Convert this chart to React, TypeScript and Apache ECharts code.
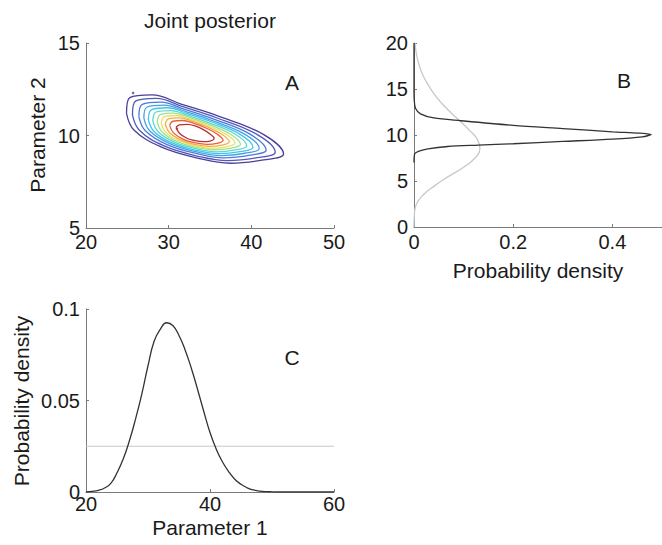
import React, { useEffect, useRef } from "react";
import * as echarts from "echarts";

const FONT = '"Liberation Sans", Arial, Helvetica, sans-serif';
const TEXT = "#1a1a1a";
const AXIS = "#7a7a7a";

// ---- Panel A: joint posterior contours (Parameter 1, Parameter 2), outer -> inner
const contour1 = [[24.9, 11.2], [25.3, 12.05], [28.0, 12.2], [31.5, 11.7], [36.0, 11.05], [41.5, 10.05], [43.9, 9.0], [41.5, 8.68], [37.5, 8.5], [33.5, 8.78], [29.0, 9.4], [25.8, 10.3], [24.9, 11.2]];
const contour2 = [[25.62, 11.11], [26.02, 11.87], [28.5, 12.01], [31.7, 11.56], [35.78, 10.96], [40.72, 10.05], [42.89, 9.1], [40.72, 8.8], [37.1, 8.64], [33.46, 8.89], [29.38, 9.45], [26.46, 10.28], [25.62, 11.11]];
const contour3 = [[26.4, 11.01], [26.8, 11.68], [29.05, 11.8], [31.93, 11.41], [35.55, 10.87], [39.88, 10.06], [41.8, 9.21], [39.88, 8.94], [36.68, 8.79], [33.43, 9.02], [29.8, 9.51], [27.18, 10.26], [26.4, 11.01]];
const contour4 = [[27.0, 10.94], [27.4, 11.54], [29.47, 11.64], [32.1, 11.29], [35.37, 10.79], [39.23, 10.06], [40.96, 9.3], [39.23, 9.04], [36.35, 8.91], [33.4, 9.11], [30.12, 9.56], [27.73, 10.24], [27.0, 10.94]];
const contour5 = [[27.54, 10.87], [27.94, 11.4], [29.85, 11.5], [32.25, 11.18], [35.21, 10.73], [38.64, 10.06], [40.2, 9.37], [38.64, 9.13], [36.05, 9.02], [33.37, 9.19], [30.41, 9.6], [28.22, 10.22], [27.54, 10.87]];
const contour6 = [[28.08, 10.8], [28.48, 11.27], [30.23, 11.35], [32.4, 11.07], [35.05, 10.66], [38.06, 10.07], [39.45, 9.45], [38.06, 9.22], [35.75, 9.12], [33.34, 9.28], [30.7, 9.64], [28.72, 10.2], [28.08, 10.8]];
const contour7 = [[28.62, 10.74], [29.02, 11.14], [30.6, 11.21], [32.55, 10.97], [34.88, 10.6], [37.47, 10.07], [38.69, 9.53], [37.47, 9.31], [35.45, 9.23], [33.31, 9.36], [30.98, 9.68], [29.21, 10.19], [28.62, 10.74]];
const contour8 = [[29.1, 10.68], [29.5, 11.02], [30.94, 11.08], [32.69, 10.87], [34.74, 10.54], [36.95, 10.07], [38.02, 9.6], [36.95, 9.39], [35.19, 9.32], [33.29, 9.44], [31.24, 9.72], [29.65, 10.17], [29.1, 10.68]];
const contour9 = [[29.58, 10.62], [29.98, 10.9], [31.28, 10.95], [32.83, 10.78], [34.6, 10.48], [36.43, 10.07], [37.35, 9.66], [36.43, 9.48], [34.93, 9.41], [33.27, 9.51], [31.5, 9.75], [30.09, 10.16], [29.58, 10.62]];
const contour10 = [[30.12, 10.55], [30.52, 10.77], [31.65, 10.81], [32.98, 10.67], [34.43, 10.42], [35.85, 10.08], [36.59, 9.74], [35.85, 9.57], [34.63, 9.52], [33.24, 9.6], [31.78, 9.79], [30.59, 10.14], [30.12, 10.55]];
const contour11 = [[30.9, 10.45], [31.3, 10.58], [32.2, 10.6], [33.2, 10.52], [34.2, 10.32], [35.0, 10.08], [35.5, 9.85], [35.0, 9.7], [34.2, 9.67], [33.2, 9.72], [32.2, 9.85], [31.3, 10.12], [30.9, 10.45]];
const contours = [contour1, contour2, contour3, contour4, contour5, contour6, contour7, contour8, contour9, contour10, contour11];
const contourColors = ["#4a3f9a", "#5058b8", "#4d78dc", "#46a0e8", "#40c4e8", "#58d8d0", "#a0e090", "#e8e060", "#f4b048", "#e86038", "#b83030"];
const strayPoints = [[25.7, 12.3], [31.0, 10.37]];

// ---- Panel B: marginal of Parameter 2 (posterior dark, prior gray)
const param2Grid = [7.0, 7.7, 8.0, 8.25, 8.5, 8.75, 8.9, 9.05, 9.3, 9.55, 9.8, 10.05, 10.2, 10.35, 10.7, 11.05, 11.55, 11.85, 12.3, 12.9, 13.8, 15.0, 20.0];
const param2Density = [0, 0.0005, 0.002, 0.01, 0.028, 0.068, 0.13, 0.2, 0.3, 0.4, 0.46, 0.478, 0.455, 0.4, 0.3, 0.2, 0.095, 0.04, 0.013, 0.003, 0.0005, 0, 0];
const prior2Grid = [0, 1.5, 2.5, 3.5, 4.5, 5.5, 6.5, 7.5, 8.5, 9.5, 10.5, 11.5, 12.5, 13.5, 14.5, 15.5, 16.5, 17.5, 18.5, 19.5, 20];
const prior2Density = [0, 0.001, 0.005, 0.019, 0.042, 0.07, 0.1, 0.123, 0.133, 0.128, 0.112, 0.093, 0.073, 0.055, 0.04, 0.028, 0.018, 0.011, 0.006, 0.003, 0.002];

// ---- Panel C: marginal of Parameter 1
const param1Grid = [20, 21, 22, 23, 24, 25, 26, 27, 28, 29, 30, 31, 32, 33, 34, 35, 36, 37, 38, 39, 40, 41, 42, 43, 44, 45, 46, 47, 48, 50, 52, 60];
const param1Density = [0, 0.0003, 0.0009, 0.0022, 0.0047, 0.0105, 0.018, 0.028, 0.04, 0.0535, 0.069, 0.0825, 0.089, 0.0925, 0.091, 0.0855, 0.0775, 0.0675, 0.056, 0.044, 0.0325, 0.0235, 0.0165, 0.0112, 0.007, 0.0042, 0.0023, 0.0011, 0.0005, 0.0001, 0, 0];
const prior1Level = 0.025;
const prior1Range = [20, 60];

const TICK_SIZE = 20;
const NAME_SIZE = 21;

const axisCommon = (gridIndex: number, min: number, max: number, interval: number, margin: number, extra: any = {}) => ({
  type: "value" as const,
  gridIndex,
  min,
  max,
  interval,
  axisLine: { show: true, onZero: false, lineStyle: { color: AXIS, width: 1 } },
  axisTick: { show: true, inside: true, length: 3, lineStyle: { color: AXIS } },
  splitLine: { show: false },
  axisLabel: { color: TEXT, fontSize: TICK_SIZE, fontFamily: FONT, margin, ...extra },
});

export default function App() {
  const ref = useRef<HTMLDivElement>(null);
  useEffect(() => {
    const chart = echarts.init(ref.current!, null, { renderer: "svg" });
    const series: any[] = [];
    contours.forEach((c, i) => {
      series.push({
        type: "line",
        xAxisIndex: 0,
        yAxisIndex: 0,
        data: c,
        smooth: 0.4,
        showSymbol: false,
        lineStyle: { color: contourColors[i], width: 1.3 },
        silent: true,
      });
    });
    series.push({
      type: "scatter",
      xAxisIndex: 0,
      yAxisIndex: 0,
      data: strayPoints,
      symbolSize: 2.5,
      itemStyle: { color: (p: any) => (p.dataIndex === 0 ? contourColors[0] : contourColors[10]) },
      silent: true,
    });
    series.push({
      type: "line",
      xAxisIndex: 1,
      yAxisIndex: 1,
      data: prior2Grid.map((y, i) => [prior2Density[i], y]),
      smooth: true,
      showSymbol: false,
      lineStyle: { color: "#c8c8c8", width: 1.3 },
      silent: true,
    });
    series.push({
      type: "line",
      xAxisIndex: 1,
      yAxisIndex: 1,
      data: param2Grid.map((y, i) => [param2Density[i], y]),
      smooth: 0.3,
      showSymbol: false,
      lineStyle: { color: "#333333", width: 1.3 },
      silent: true,
    });
    series.push({
      type: "line",
      xAxisIndex: 2,
      yAxisIndex: 2,
      data: prior1Range.map((x) => [x, prior1Level]),
      showSymbol: false,
      lineStyle: { color: "#c8c8c8", width: 1.2 },
      silent: true,
    });
    series.push({
      type: "line",
      xAxisIndex: 2,
      yAxisIndex: 2,
      data: param1Grid.map((x, i) => [x, param1Density[i]]),
      smooth: true,
      showSymbol: false,
      lineStyle: { color: "#333333", width: 1.3 },
      silent: true,
    });

    const txt = (text: string, x: number, y: number, rotation = 0) => ({
      type: "text",
      x,
      y,
      rotation,
      style: { text, fill: TEXT, font: `${NAME_SIZE}px ${FONT}`, align: "center", verticalAlign: "middle" },
      silent: true,
    });

    chart.setOption({
      animation: false,
      backgroundColor: "#ffffff",
      grid: [
        { left: 86, top: 43, width: 248, height: 185 },
        { left: 414, top: 43, width: 249, height: 184 },
        { left: 86, top: 309, width: 248, height: 183 },
      ],
      xAxis: [
        axisCommon(0, 20, 50, 10, 4),
        axisCommon(1, 0, 0.5, 0.2, 5, { showMaxLabel: false }),
        axisCommon(2, 20, 60, 20, 2),
      ],
      yAxis: [
        axisCommon(0, 5, 15, 5, 6),
        axisCommon(1, 0, 20, 5, 6),
        axisCommon(2, 0, 0.1, 0.05, 6),
      ],
      series,
      graphic: [
        txt("Joint posterior", 210, 20),
        txt("Parameter 2", 37, 135, Math.PI / 2),
        txt("A", 292, 82),
        txt("B", 624, 80),
        txt("Probability density", 538, 270),
        txt("C", 292, 357),
        txt("Probability density", 21, 401, Math.PI / 2),
        txt("Parameter 1", 210, 527),
      ],
    });
    return () => chart.dispose();
  }, []);
  return (
    <div
      ref={ref}
      style={{ position: "fixed", left: 0, top: 0, width: 662, height: 545, background: "#fff" }}
    />
  );
}
